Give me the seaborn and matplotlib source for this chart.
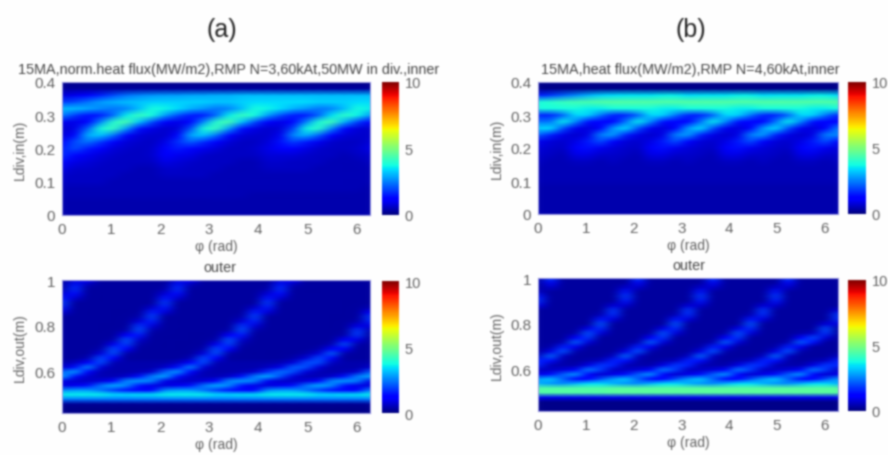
import numpy as np
import pandas as pd
import matplotlib
matplotlib.use("Agg")
import matplotlib.pyplot as plt
import seaborn as sns

# phi grid (rad), one value per column of the tables below
phi = [0, 0.26, 0.52, 0.79, 1.05, 1.31, 1.57, 1.83, 2.09, 2.36, 2.62, 2.88, 3.14,
       3.40, 3.67, 3.93, 4.19, 4.45, 4.71, 4.97, 5.24, 5.50, 5.76, 6.02, 6.28]

# heights of the rows
y_in = [0.40, 0.38, 0.36, 0.34, 0.32, 0.30, 0.28, 0.26, 0.24, 0.22, 0.20,
        0.18, 0.16, 0.14, 0.12, 0.10, 0.08, 0.06, 0.04, 0.02, 0.00]
y_out = [0.42, 0.44, 0.46, 0.48, 0.50, 0.52, 0.54, 0.56, 0.58, 0.60, 0.62, 0.64, 0.66, 0.68, 0.70,
         0.72, 0.74, 0.76, 0.78, 0.80, 0.82, 0.84, 0.86, 0.88, 0.90, 0.92, 0.94, 0.96, 0.98, 1.00]

# heat flux, in 0.1 MW/m2, one line per phi
a_in = [
    [1, 3, 8, 18, 31, 25, 10, 7, 8, 11, 15, 17, 13, 9, 7, 6, 5, 5, 4, 4, 4],
    [1, 3, 10, 20, 31, 18, 9, 9, 13, 20, 20, 13, 9, 7, 6, 6, 5, 5, 4, 4, 4],
    [1, 3, 13, 24, 29, 14, 12, 22, 30, 24, 15, 10, 8, 7, 6, 6, 5, 5, 4, 4, 4],
    [1, 3, 16, 28, 26, 15, 26, 38, 32, 18, 11, 8, 7, 6, 6, 6, 5, 5, 4, 4, 4],
    [1, 3, 20, 30, 24, 23, 40, 42, 24, 12, 8, 7, 6, 6, 6, 5, 5, 5, 4, 4, 4],
    [1, 3, 24, 31, 25, 36, 44, 28, 13, 8, 7, 6, 6, 6, 5, 5, 5, 5, 4, 4, 4],
    [1, 3, 26, 32, 31, 42, 32, 14, 8, 7, 6, 6, 6, 5, 5, 5, 5, 5, 4, 4, 4],
    [1, 3, 27, 33, 38, 38, 20, 9, 7, 6, 7, 7, 6, 5, 5, 5, 5, 5, 4, 4, 4],
    [1, 3, 28, 33, 37, 28, 12, 7, 7, 9, 11, 11, 9, 7, 6, 5, 5, 5, 4, 4, 4],
    [1, 3, 28, 33, 34, 20, 9, 8, 11, 17, 15, 10, 8, 7, 6, 5, 5, 5, 4, 4, 4],
    [1, 3, 29, 33, 30, 15, 12, 20, 29, 22, 13, 9, 7, 6, 6, 5, 5, 5, 4, 4, 4],
    [1, 3, 29, 33, 27, 15, 26, 38, 32, 17, 10, 7, 6, 6, 6, 5, 5, 5, 4, 4, 4],
    [1, 3, 30, 32, 24, 23, 40, 42, 24, 11, 8, 6, 6, 6, 5, 5, 5, 5, 4, 4, 4],
    [1, 3, 30, 32, 25, 36, 44, 28, 13, 8, 6, 6, 6, 5, 5, 5, 5, 5, 4, 4, 4],
    [1, 3, 31, 33, 31, 42, 32, 14, 8, 6, 6, 6, 5, 5, 5, 5, 5, 5, 4, 4, 4],
    [1, 3, 31, 34, 38, 38, 20, 9, 7, 6, 7, 6, 5, 5, 5, 5, 5, 4, 4, 4, 4],
    [1, 3, 31, 34, 37, 28, 12, 7, 7, 8, 9, 8, 7, 6, 5, 5, 5, 4, 4, 4, 4],
    [1, 3, 31, 34, 34, 20, 9, 8, 10, 14, 11, 8, 7, 6, 5, 5, 5, 4, 4, 4, 4],
    [1, 3, 31, 34, 30, 15, 12, 19, 26, 19, 11, 8, 6, 6, 5, 5, 5, 4, 4, 4, 4],
    [1, 3, 31, 34, 27, 15, 25, 37, 30, 15, 9, 7, 6, 6, 5, 5, 5, 4, 4, 4, 4],
    [1, 3, 31, 33, 24, 22, 39, 41, 22, 10, 7, 6, 6, 5, 5, 5, 5, 4, 4, 4, 4],
    [1, 3, 31, 33, 25, 35, 43, 26, 12, 7, 6, 6, 5, 5, 5, 5, 5, 4, 4, 4, 4],
    [1, 3, 31, 33, 31, 41, 30, 13, 8, 6, 6, 5, 5, 5, 5, 5, 5, 4, 4, 4, 4],
    [1, 3, 31, 34, 38, 37, 19, 8, 7, 6, 7, 6, 5, 5, 5, 5, 5, 4, 4, 4, 4],
    [1, 3, 31, 34, 36, 27, 12, 7, 7, 8, 9, 7, 6, 5, 5, 5, 4, 4, 4, 4, 4],
]

a_out = [
    [1, 1, 2, 24, 36, 26, 8, 9, 29, 22, 7, 4, 3, 3, 3, 3, 3, 3, 3, 3, 3, 3, 8, 15, 18, 15, 8, 4, 3, 3],
    [1, 1, 2, 24, 36, 28, 10, 7, 14, 28, 14, 6, 3, 3, 3, 3, 3, 3, 3, 3, 3, 3, 3, 3, 3, 7, 14, 17, 15, 8],
    [1, 1, 2, 24, 36, 28, 14, 6, 7, 12, 26, 12, 5, 3, 3, 3, 3, 3, 3, 3, 3, 3, 3, 3, 3, 3, 3, 3, 5, 12],
    [1, 1, 2, 24, 36, 24, 24, 8, 5, 5, 8, 20, 20, 8, 4, 3, 3, 3, 3, 3, 3, 3, 3, 3, 3, 3, 3, 3, 3, 3],
    [1, 1, 2, 24, 34, 18, 30, 12, 5, 4, 4, 5, 11, 20, 20, 10, 4, 3, 3, 3, 3, 3, 3, 3, 3, 3, 3, 3, 3, 3],
    [1, 1, 2, 24, 34, 14, 26, 26, 7, 4, 4, 4, 3, 4, 11, 19, 21, 11, 4, 3, 3, 3, 3, 3, 3, 3, 3, 3, 3, 3],
    [1, 1, 2, 24, 35, 12, 14, 28, 14, 5, 4, 4, 3, 3, 3, 4, 7, 15, 20, 18, 8, 4, 3, 3, 3, 3, 3, 3, 3, 3],
    [1, 1, 2, 24, 35, 12, 9, 25, 25, 7, 4, 4, 3, 3, 3, 3, 3, 3, 4, 8, 16, 19, 16, 7, 3, 3, 3, 3, 3, 3],
    [1, 1, 2, 24, 36, 26, 8, 9, 29, 22, 7, 4, 3, 3, 3, 3, 3, 3, 3, 3, 3, 3, 8, 15, 18, 15, 8, 4, 3, 3],
    [1, 1, 2, 24, 36, 28, 10, 7, 14, 28, 14, 6, 3, 3, 3, 3, 3, 3, 3, 3, 3, 3, 3, 3, 3, 7, 14, 17, 15, 8],
    [1, 1, 2, 24, 36, 28, 14, 6, 7, 12, 26, 12, 5, 3, 3, 3, 3, 3, 3, 3, 3, 3, 3, 3, 3, 3, 3, 3, 5, 12],
    [1, 1, 2, 24, 36, 24, 24, 8, 5, 5, 8, 20, 20, 8, 4, 3, 3, 3, 3, 3, 3, 3, 3, 3, 3, 3, 3, 3, 3, 3],
    [1, 1, 2, 24, 34, 18, 30, 12, 5, 4, 4, 5, 11, 20, 20, 10, 4, 3, 3, 3, 3, 3, 3, 3, 3, 3, 3, 3, 3, 3],
    [1, 1, 2, 24, 34, 14, 26, 26, 7, 4, 4, 4, 3, 4, 11, 19, 21, 11, 4, 3, 3, 3, 3, 3, 3, 3, 3, 3, 3, 3],
    [1, 1, 2, 24, 35, 12, 14, 28, 14, 5, 4, 4, 3, 3, 3, 4, 7, 15, 20, 18, 8, 4, 3, 3, 3, 3, 3, 3, 3, 3],
    [1, 1, 2, 24, 35, 12, 9, 25, 25, 7, 4, 4, 3, 3, 3, 3, 3, 3, 4, 8, 16, 19, 16, 7, 3, 3, 3, 3, 3, 3],
    [1, 1, 2, 24, 36, 26, 8, 10, 30, 17, 6, 4, 3, 3, 3, 3, 3, 3, 3, 3, 3, 3, 8, 15, 18, 15, 8, 4, 3, 3],
    [1, 1, 2, 24, 36, 28, 10, 7, 20, 24, 9, 5, 3, 3, 3, 3, 3, 3, 3, 3, 3, 3, 3, 3, 3, 7, 14, 17, 15, 8],
    [1, 1, 2, 24, 36, 28, 14, 6, 8, 20, 22, 8, 4, 3, 3, 3, 3, 3, 3, 3, 3, 3, 3, 3, 3, 3, 3, 3, 5, 12],
    [1, 1, 2, 24, 36, 24, 24, 8, 5, 8, 20, 20, 8, 4, 3, 3, 3, 3, 3, 3, 3, 3, 3, 3, 3, 3, 3, 3, 3, 3],
    [1, 1, 2, 24, 34, 18, 30, 12, 5, 5, 8, 20, 20, 8, 4, 3, 3, 3, 3, 3, 3, 3, 3, 3, 3, 3, 3, 3, 3, 3],
    [1, 1, 2, 24, 34, 14, 26, 26, 7, 4, 4, 6, 13, 22, 13, 5, 3, 3, 3, 3, 3, 3, 3, 3, 3, 3, 3, 3, 3, 3],
    [1, 1, 2, 24, 35, 12, 14, 28, 14, 5, 4, 4, 3, 4, 11, 20, 11, 4, 3, 3, 3, 3, 3, 3, 3, 3, 3, 3, 3, 3],
    [1, 1, 2, 24, 35, 12, 9, 25, 25, 7, 4, 4, 3, 3, 3, 4, 9, 18, 18, 9, 4, 3, 3, 3, 3, 3, 3, 3, 3, 3],
    [1, 1, 2, 24, 36, 26, 8, 9, 29, 22, 7, 4, 3, 3, 3, 3, 3, 3, 4, 8, 16, 18, 12, 5, 3, 3, 3, 3, 3, 3],
]

b_in = [
    [1, 1, 15, 38, 38, 16, 24, 33, 22, 10, 8, 7, 6, 5, 5, 5, 4, 4, 4, 4, 4],
    [1, 1, 18, 40, 38, 16, 24, 34, 16, 8, 7, 6, 5, 5, 5, 5, 4, 4, 4, 4, 4],
    [1, 1, 22, 42, 38, 22, 36, 20, 9, 7, 6, 5, 5, 5, 5, 5, 4, 4, 4, 4, 4],
    [1, 1, 26, 43, 38, 34, 26, 10, 7, 9, 12, 9, 6, 5, 5, 5, 4, 4, 4, 4, 4],
    [1, 1, 30, 44, 36, 33, 14, 8, 9, 15, 14, 9, 6, 5, 5, 5, 4, 4, 4, 4, 4],
    [1, 1, 33, 45, 36, 24, 11, 12, 25, 20, 10, 7, 5, 5, 5, 5, 4, 4, 4, 4, 4],
    [1, 1, 34, 45, 38, 16, 11, 28, 28, 11, 8, 7, 6, 5, 5, 5, 4, 4, 4, 4, 4],
    [1, 1, 35, 45, 38, 16, 24, 34, 16, 8, 7, 6, 5, 5, 5, 5, 4, 4, 4, 4, 4],
    [1, 1, 35, 45, 38, 22, 36, 20, 9, 7, 6, 5, 5, 5, 5, 5, 4, 4, 4, 4, 4],
    [1, 1, 35, 45, 38, 34, 26, 10, 7, 9, 12, 9, 6, 5, 5, 5, 4, 4, 4, 4, 4],
    [1, 1, 36, 45, 36, 33, 14, 8, 9, 15, 14, 9, 6, 5, 5, 5, 4, 4, 4, 4, 4],
    [1, 1, 36, 45, 36, 24, 11, 12, 25, 20, 10, 7, 5, 5, 5, 5, 4, 4, 4, 4, 4],
    [1, 1, 34, 45, 38, 16, 11, 28, 28, 11, 8, 7, 6, 5, 5, 5, 4, 4, 4, 4, 4],
    [1, 1, 35, 45, 38, 16, 24, 34, 16, 8, 7, 6, 5, 5, 5, 5, 4, 4, 4, 4, 4],
    [1, 1, 35, 45, 38, 22, 36, 20, 9, 7, 6, 5, 5, 5, 5, 5, 4, 4, 4, 4, 4],
    [1, 1, 35, 45, 38, 34, 26, 10, 7, 9, 12, 9, 6, 5, 5, 5, 4, 4, 4, 4, 4],
    [1, 1, 36, 45, 36, 33, 14, 8, 9, 15, 14, 9, 6, 5, 5, 5, 4, 4, 4, 4, 4],
    [1, 1, 36, 45, 36, 24, 11, 12, 25, 20, 10, 7, 5, 5, 5, 5, 4, 4, 4, 4, 4],
    [1, 1, 34, 45, 38, 16, 11, 28, 28, 11, 8, 7, 6, 5, 5, 5, 4, 4, 4, 4, 4],
    [1, 1, 35, 45, 38, 16, 24, 34, 16, 8, 7, 6, 5, 5, 5, 5, 4, 4, 4, 4, 4],
    [1, 1, 35, 45, 38, 22, 36, 20, 9, 7, 6, 5, 5, 5, 5, 5, 4, 4, 4, 4, 4],
    [1, 1, 35, 45, 38, 34, 26, 10, 7, 9, 12, 9, 6, 5, 5, 5, 4, 4, 4, 4, 4],
    [1, 1, 36, 45, 36, 33, 14, 8, 9, 15, 14, 9, 6, 5, 5, 5, 4, 4, 4, 4, 4],
    [1, 1, 36, 45, 36, 24, 11, 12, 25, 20, 10, 7, 5, 5, 5, 5, 4, 4, 4, 4, 4],
    [1, 1, 34, 45, 38, 16, 11, 26, 26, 11, 8, 7, 6, 5, 5, 5, 4, 4, 4, 4, 4],
]

b_out = [
    [1, 1, 1, 10, 45, 45, 30, 28, 9, 6, 16, 16, 6, 3, 3, 3, 3, 3, 3, 3, 3, 3, 3, 9, 17, 15, 6, 3, 3, 3],
    [1, 1, 1, 10, 45, 45, 27, 32, 14, 6, 5, 14, 23, 9, 4, 3, 3, 3, 3, 3, 3, 3, 3, 3, 3, 3, 3, 7, 14, 18],
    [1, 1, 1, 10, 45, 45, 26, 22, 22, 8, 4, 4, 6, 21, 16, 5, 3, 3, 3, 3, 3, 3, 3, 3, 3, 3, 3, 3, 3, 3],
    [1, 1, 1, 10, 45, 45, 30, 11, 28, 12, 4, 3, 3, 4, 10, 22, 12, 4, 3, 3, 3, 3, 3, 3, 3, 3, 3, 3, 3, 3],
    [1, 1, 1, 10, 45, 45, 34, 12, 12, 25, 9, 4, 3, 3, 3, 8, 18, 21, 9, 3, 3, 3, 3, 3, 3, 3, 3, 3, 3, 3],
    [1, 1, 1, 10, 45, 45, 34, 20, 7, 18, 18, 6, 3, 3, 3, 3, 3, 8, 17, 21, 15, 5, 3, 3, 3, 3, 3, 3, 3, 3],
    [1, 1, 1, 10, 46, 46, 30, 28, 9, 6, 16, 16, 6, 3, 3, 3, 3, 3, 3, 3, 8, 17, 18, 8, 3, 3, 3, 3, 3, 3],
    [1, 1, 1, 10, 46, 46, 27, 32, 14, 6, 5, 14, 23, 9, 4, 3, 3, 3, 3, 3, 3, 3, 3, 7, 15, 18, 15, 7, 3, 3],
    [1, 1, 1, 10, 46, 46, 26, 22, 22, 8, 4, 4, 6, 21, 16, 5, 3, 3, 3, 3, 3, 3, 3, 3, 3, 3, 3, 7, 14, 18],
    [1, 1, 1, 10, 46, 46, 30, 11, 28, 12, 4, 3, 3, 4, 10, 22, 12, 4, 3, 3, 3, 3, 3, 3, 3, 3, 3, 3, 3, 3],
    [1, 1, 1, 10, 46, 46, 34, 12, 12, 25, 9, 4, 3, 3, 3, 8, 18, 21, 9, 3, 3, 3, 3, 3, 3, 3, 3, 3, 3, 3],
    [1, 1, 1, 10, 46, 46, 34, 20, 7, 18, 18, 6, 3, 3, 3, 3, 3, 8, 17, 21, 15, 5, 3, 3, 3, 3, 3, 3, 3, 3],
    [1, 1, 1, 10, 46, 46, 30, 28, 9, 6, 16, 16, 6, 3, 3, 3, 3, 3, 3, 3, 8, 17, 18, 8, 3, 3, 3, 3, 3, 3],
    [1, 1, 1, 10, 46, 46, 27, 32, 14, 6, 5, 14, 23, 9, 4, 3, 3, 3, 3, 3, 3, 3, 3, 7, 15, 18, 15, 7, 3, 3],
    [1, 1, 1, 10, 46, 46, 26, 22, 22, 8, 4, 4, 6, 21, 16, 5, 3, 3, 3, 3, 3, 3, 3, 3, 3, 3, 3, 7, 14, 18],
    [1, 1, 1, 10, 46, 46, 30, 11, 28, 12, 4, 3, 3, 4, 10, 22, 12, 4, 3, 3, 3, 3, 3, 3, 3, 3, 3, 3, 3, 3],
    [1, 1, 1, 10, 46, 46, 34, 12, 12, 25, 9, 4, 3, 3, 3, 8, 18, 21, 9, 3, 3, 3, 3, 3, 3, 3, 3, 3, 3, 3],
    [1, 1, 1, 10, 46, 46, 34, 20, 7, 18, 18, 6, 3, 3, 3, 3, 3, 8, 17, 21, 15, 5, 3, 3, 3, 3, 3, 3, 3, 3],
    [1, 1, 1, 10, 46, 46, 30, 28, 9, 6, 16, 16, 6, 3, 3, 3, 3, 3, 3, 3, 8, 17, 18, 8, 3, 3, 3, 3, 3, 3],
    [1, 1, 1, 10, 46, 46, 27, 32, 14, 6, 5, 14, 23, 9, 4, 3, 3, 3, 3, 3, 3, 3, 3, 7, 15, 18, 15, 7, 3, 3],
    [1, 1, 1, 10, 46, 46, 26, 22, 22, 8, 4, 4, 6, 21, 16, 5, 3, 3, 3, 3, 3, 3, 3, 3, 3, 3, 3, 7, 14, 18],
    [1, 1, 1, 10, 46, 46, 30, 11, 28, 12, 4, 3, 3, 4, 10, 22, 12, 4, 3, 3, 3, 3, 3, 3, 3, 3, 3, 3, 3, 3],
    [1, 1, 1, 10, 46, 46, 34, 12, 12, 25, 9, 4, 3, 3, 3, 14, 20, 6, 3, 3, 3, 3, 3, 3, 3, 3, 3, 3, 3, 3],
    [1, 1, 1, 10, 46, 46, 34, 20, 7, 18, 18, 6, 3, 3, 3, 3, 8, 18, 20, 8, 3, 3, 3, 3, 3, 3, 3, 3, 3, 3],
    [1, 1, 1, 10, 46, 46, 30, 28, 9, 6, 16, 16, 6, 3, 3, 3, 3, 3, 3, 8, 17, 18, 8, 3, 3, 3, 3, 3, 3, 3],
]

phi_ticks = [0, 1, 2, 3, 4, 5, 6]
in_ticks = [0, 0.1, 0.2, 0.3, 0.4]
in_labels = ['0', '0.1', '0.2', '0.3', '0.4']
out_ticks = [0.6, 0.8, 1]
out_labels = ['0.6', '0.8', '1']
title_a = '15MA,norm.heat flux(MW/m2),RMP N=3,60kAt,50MW in div.,inner'
title_b = '15MA,heat flux(MW/m2),RMP N=4,60kAt,inner'

W, H = 888, 456
GREY = '#606060'

sns.set_theme(style='white')
plt.rcParams['font.family'] = ['Liberation Sans', 'DejaVu Sans']
fig = plt.figure(figsize=(W / 100, H / 100), dpi=100)
boxes = []


def box(x0, x1, y0, y1):
    # pixel box of the picture -> figure fractions
    return [x0 / W, 1 - y1 / H, (x1 - x0) / W, (y1 - y0) / H]


def panel(cols, ys, pos, cpos, yticks, ylabels, ylab, title, title_x):
    ax = fig.add_axes(box(*pos))
    cax = fig.add_axes(box(*cpos))
    boxes.append(pos)
    df = pd.DataFrame(np.array(cols).T / 10, index=ys, columns=phi).sort_index()
    sns.heatmap(df, ax=ax, cbar_ax=cax, cmap='jet', vmin=0, vmax=10, shading='gouraud',
                xticklabels=False, yticklabels=False, cbar_kws={'ticks': [0, 5, 10]})
    # gouraud puts the values on the nodes, so the axis runs from node to node
    nx, ny = df.shape[1], df.shape[0]
    ax.set_xlim(0, nx - 1)
    ax.set_ylim(0, ny - 1)
    ax.set_xticks([p / (phi[-1] / (nx - 1)) for p in phi_ticks])
    ax.set_xticklabels(phi_ticks)
    dy = df.index[1] - df.index[0]
    ax.set_yticks([(v - df.index[0]) / dy for v in yticks])
    ax.set_yticklabels(ylabels)
    ax.tick_params(length=2, direction='in', colors=GREY, labelsize=11, pad=5, color='#8888dd')
    ax.set_xlabel('φ (rad)', fontsize=10, color=GREY)
    ax.set_ylabel(ylab, fontsize=10, color=GREY)
    ax.xaxis.set_label_coords(0.5, -0.18)
    ax.yaxis.set_label_coords(-0.115, 0.5)
    for s in ax.spines.values():
        s.set_visible(True)
        s.set_color('#9a9ae0')
        s.set_linewidth(0.8)
    cax.tick_params(length=0, labelsize=10.5, colors=GREY, pad=4)
    fig.text(title_x / W, 1 - (pos[2] - 6) / H, title, fontsize=10.4, color='#444444', ha='center', va='bottom')


panel(a_in, y_in, (62, 370, 83, 216), (382, 399, 83, 216), in_ticks, in_labels, 'Ldiv,in(m)', title_a, 229)
panel(a_out, y_out, (62, 370, 281, 414), (382, 399, 282, 414), out_ticks, out_labels, 'Ldiv,out(m)', 'outer', 220)
panel(b_in, y_in, (538, 838, 83, 215), (848, 866, 83, 215), in_ticks, in_labels, 'Ldiv,in(m)', title_b, 690)
panel(b_out, y_out, (538, 838, 279, 412), (848, 866, 281, 412), out_ticks, out_labels, 'Ldiv,out(m)', 'outer', 689)

fig.text(222 / W, 1 - 30 / H, '(a)', fontsize=18, color='#222222', ha='center', va='center')
fig.text(691 / W, 1 - 30 / H, '(b)', fontsize=18, color='#222222', ha='center', va='center')


def blur(arr, sigma, axis):
    r = int(3 * sigma) + 1
    k = np.exp(-0.5 * (np.arange(-r, r + 1) / sigma) ** 2)
    k /= k.sum()
    pad = [(0, 0)] * arr.ndim
    pad[axis] = (r, r)
    padded = np.pad(arr, pad, mode='edge')
    return np.apply_along_axis(lambda v: np.convolve(v, k, mode='valid'), axis, padded)


# the source is a soft, low resolution scan: smooth the heat maps along phi, then the whole image
fig.canvas.draw()
img = np.asarray(fig.canvas.buffer_rgba())[:, :, :3].astype(float)
for x0, x1, y0, y1 in boxes:
    img[y0 + 1:y1, x0 + 1:x1] = blur(img[y0 + 1:y1, x0 + 1:x1], 3.5, 1)
img = blur(blur(img, 0.9, 0), 0.9, 1)
plt.imsave('out.png', np.clip(img, 0, 255).astype(np.uint8))
